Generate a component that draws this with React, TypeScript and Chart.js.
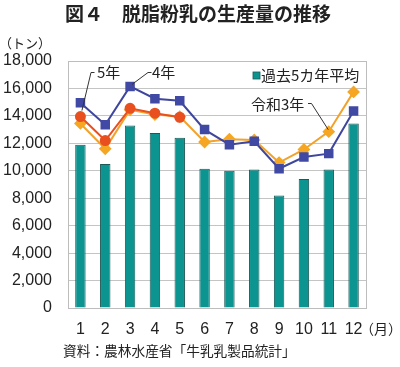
import React, { useEffect, useRef } from "react";
import { Chart, registerables } from "chart.js";

Chart.register(...registerables);

const months = ["1", "2", "3", "4", "5", "6", "7", "8", "9", "10", "11", "12"];
const avg5y = [11900, 10500, 13300, 12750, 12400, 10150, 10000, 10100, 8200, 9400, 10100, 13450];
const r4 = [14950, 13350, 16150, 15250, 15100, 13000, 11900, 12150, 10150, 11000, 11250, 14350];
const r5 = [13950, 12200, 14550, 14200, 13900, null, null, null, null, null, null, null];
const r3 = [13450, 11600, 14450, 14100, 13950, 12100, 12300, 12250, 10600, 11550, 12850, 15750];
const yTicks = [0, 2000, 4000, 6000, 8000, 10000, 12000, 14000, 16000, 18000];

const TITLE = "図４　脱脂粉乳の生産量の推移";
const UNIT_Y = "（トン）";
const UNIT_X = "（月）";
const SOURCE = "資料：農林水産省「牛乳乳製品統計」";
const LEGEND_BAR = "過去5カ年平均";
const LBL_R5 = "5年";
const LBL_R4 = "4年";
const LBL_R3 = "令和3年";

const JP = '"Noto Sans CJK JP", "Noto Sans", sans-serif';
const SANS = '"Liberation Sans", Arial, sans-serif';

const TEAL = "#0c9490";
const BLUE = "#3f469e";
const RED = "#e8501f";
const ORANGE = "#f2a22a";

const decor = {
  id: "decor",
  beforeDatasetsDraw(chart: any) {
    const { ctx, chartArea: a } = chart;
    ctx.save();
    ctx.strokeStyle = "#bdbdbd";
    ctx.lineWidth = 1;
    ctx.strokeRect(Math.round(a.left) + 0.5, Math.round(a.top) + 0.5, Math.round(a.right - a.left), Math.round(a.bottom - a.top));
    ctx.restore();
  },
  afterDraw(chart: any) {
    const { ctx } = chart;
    ctx.save();
    ctx.fillStyle = "#222";
    ctx.textBaseline = "middle";
    // title
    ctx.font = `bold 19px ${JP}`;
    ctx.textAlign = "center";
    ctx.fillText(TITLE, 198, 14);
    // units
    ctx.font = `13px ${JP}`;
    ctx.textAlign = "center";
    ctx.fillText(UNIT_Y, 25, 43);
    ctx.font = `14px ${JP}`;
    ctx.textAlign = "left";
    ctx.fillText(UNIT_X, 360, 329);
    // source
    ctx.font = `13.7px ${JP}`;
    ctx.fillText(SOURCE, 63, 351);
    // legend
    ctx.fillStyle = TEAL;
    ctx.fillRect(253, 72, 7, 7);
    ctx.strokeStyle = "#1d5a57";
    ctx.lineWidth = 0.8;
    ctx.strokeRect(253, 72, 7, 7);
    ctx.fillStyle = "#222";
    ctx.font = `15px ${JP}`;
    ctx.fillText(LEGEND_BAR, 261, 75);

    // annotations with leader lines
    const p = (ds: number, i: number) => chart.getDatasetMeta(ds).data[i];
    ctx.strokeStyle = "#333";
    ctx.lineWidth = 1;
    const leader = (sx: number, sy: number, ex: number, ey: number) => {
      ctx.beginPath();
      ctx.moveTo(sx + 3.5, sy);
      ctx.lineTo(sx, sy);
      ctx.lineTo(ex, ey);
      ctx.stroke();
    };
    // 5年 -> red point month 1
    const a5 = p(0, 0);
    leader(91, 72.5, a5.x + 1.5, a5.y - 6);
    ctx.fillText(LBL_R5, 97, 72);
    // 4年 -> blue point month 3
    const a4 = p(1, 2);
    leader(148, 72.5, a4.x + 2, a4.y - 2);
    ctx.fillText(LBL_R4, 152, 72);
    // 令和3年 -> orange point month 11
    const a3 = p(2, 10);
    ctx.beginPath();
    ctx.moveTo(308, 103.5);
    ctx.lineTo(311.5, 103.5);
    ctx.lineTo(a3.x - 0.5, a3.y - 2);
    ctx.stroke();
    ctx.fillText(LBL_R3, 251, 104);
    ctx.restore();
  },
};

export default function App() {
  const ref = useRef<HTMLCanvasElement>(null);
  useEffect(() => {
    if (!ref.current) return;
    const chart = new Chart(ref.current, {
      type: "bar",
      data: {
        labels: months,
        datasets: [
          {
            type: "line",
            label: "5年",
            data: r5 as any,
            borderColor: RED,
            backgroundColor: RED,
            borderWidth: 2,
            pointStyle: "circle",
            pointRadius: 4.5,
            pointBackgroundColor: RED,
            pointBorderColor: RED,
            spanGaps: false,
            order: 0,
          } as any,
          {
            type: "line",
            label: "4年",
            data: r4,
            borderColor: BLUE,
            backgroundColor: BLUE,
            borderWidth: 2,
            pointStyle: "rect",
            pointRadius: 5.3,
            pointBackgroundColor: "#4049a3",
            pointBorderColor: "#4049a3",
            order: 1,
          } as any,
          {
            type: "line",
            label: "令和3年",
            data: r3,
            borderColor: ORANGE,
            backgroundColor: ORANGE,
            borderWidth: 2,
            pointStyle: "rectRot",
            pointRadius: 5,
            pointBackgroundColor: "#f5a623",
            pointBorderColor: "#f5a623",
            order: 2,
          } as any,
          {
            type: "bar",
            label: LEGEND_BAR,
            data: avg5y,
            backgroundColor: TEAL,
            borderColor: "#1d5a57",
            borderWidth: 1,
            categoryPercentage: 1,
            barPercentage: 0.42,
            order: 3,
          } as any,
        ],
      },
      options: {
        responsive: false,
        animation: false,
        devicePixelRatio: 1,
        layout: { padding: { top: 61, right: 34, bottom: 0, left: 0 } },
        plugins: {
          legend: { display: false },
          title: { display: false },
          tooltip: { enabled: false },
        },
        scales: {
          x: {
            grid: { display: false, drawTicks: false },
            border: { display: false },
            ticks: {
              color: "#222",
              font: { family: SANS, size: 16 },
              padding: 12,
              maxRotation: 0,
              autoSkip: false,
            },
            afterFit: (s: any) => {
              s.height = 59;
            },
          },
          y: {
            min: 0,
            max: 18000,
            afterBuildTicks: (s: any) => {
              s.ticks = yTicks.map((v) => ({ value: v }));
            },
            grid: { color: "#c4c4c4", lineWidth: 1, drawTicks: false },
            border: { display: false },
            ticks: {
              color: "#222",
              font: { family: SANS, size: 16 },
              padding: 16,
              callback: (v: any) => Number(v).toLocaleString("en-US"),
            },
            afterFit: (s: any) => {
              s.width = 68;
            },
          },
        },
      },
      plugins: [decor],
    });
    return () => chart.destroy();
  }, []);
  return (
    <div style={{ position: "fixed", left: 0, top: 0, width: 400, height: 367, background: "#fff" }}>
      <canvas ref={ref} width={400} height={367} style={{ width: 400, height: 367, display: "block" }} />
    </div>
  );
}
